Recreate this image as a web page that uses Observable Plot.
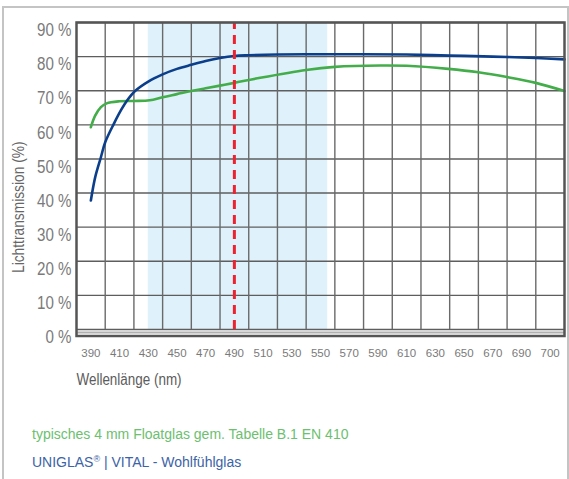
<!DOCTYPE html>
<html>
<head>
<meta charset="utf-8">
<script src="https://cdn.jsdelivr.net/npm/d3@7"></script>
<script src="https://cdn.jsdelivr.net/npm/@observablehq/plot@0.6"></script>
<style>
  html, body { margin: 0; padding: 0; background: #fff; }
  #wrap { position: relative; width: 569px; height: 479px; overflow: hidden; }
  #border { position: absolute; left: 2px; top: 6px; width: 563px; height: 490px; border: 2px solid #c4c4c4; }
  #chart { position: absolute; left: 0; top: 0; }
  .leg { position: absolute; left: 32px; font-family: "Liberation Sans", Arial, sans-serif; font-size: 14px; line-height: 14px; white-space: nowrap; }
  #leg1 { top: 427px; color: #6cc06f; }
  #leg2 { top: 455px; color: #3c63a6; }
  sup { font-size: 9px; vertical-align: 5px; line-height: 0; }
</style>
</head>
<body>
<div id="wrap">
  <div id="border"></div>
  <div id="chart"></div>
  <div class="leg" id="leg1"></div>
  <div class="leg" id="leg2"></div>
</div>
<script>
// ---- data ----
const xGrid = [400, 420, 440, 460, 480, 500, 520, 540, 560, 580, 600, 620, 640, 660, 680, 700];
const xTicks = [390, 410, 430, 450, 470, 490, 510, 530, 550, 570, 590, 610, 630, 650, 670, 690, 710];
const xTickLabels = ["390", "410", "430", "450", "470", "490", "510", "530", "550", "570", "590", "610", "630", "650", "670", "690", "700"];
const yTicks = [0, 10, 20, 30, 40, 50, 60, 70, 80, 90];
const xDomain = [380, 720];
const band = [{x1: 430, x2: 555}];
const marker = [490];

const blueWl = [390, 393, 397, 400, 406, 411, 415, 421, 430, 440, 450, 460, 470, 480, 490, 500, 520, 550, 580, 610, 640, 670, 700, 720];
const blueVal = [37.8, 44.6, 50.5, 54.9, 60.3, 64.3, 67.0, 70.0, 72.7, 74.8, 76.4, 77.6, 78.7, 79.6, 80.2, 80.4, 80.6, 80.7, 80.7, 80.6, 80.3, 80.0, 79.6, 79.2];

const greenWl = [390, 393, 397, 401, 410, 420, 431, 440, 450, 460, 470, 480, 490, 508, 540, 560, 592, 610, 639, 660, 680, 700, 720];
const greenVal = [59.3, 62.7, 65.2, 66.3, 66.9, 67.0, 67.2, 68.1, 69.0, 69.9, 70.7, 71.5, 72.3, 73.8, 76.1, 77.0, 77.4, 77.3, 76.4, 75.4, 74.0, 72.3, 69.9];

const xTitle = "Wellenlänge (nm)";
const yTitle = "Lichttransmission (%)";
const legendGreen = "typisches 4 mm Floatglas gem. Tabelle B.1 EN 410";
const legendBlue = ["UNIGLAS", "®", " | VITAL - Wohlfühlglas"];

// ---- build ----
const blue = blueWl.map((w, i) => ({w, v: blueVal[i]}));
const green = greenWl.map((w, i) => ({w, v: greenVal[i]}));
const labelMap = new Map(xTicks.map((t, i) => [t, xTickLabels[i]]));
const REG = '"Liberation Sans", Arial, sans-serif';

const chart = Plot.plot({
  width: 569,
  height: 400,
  marginLeft: 76,
  marginRight: 5,
  marginTop: 22,
  marginBottom: 71,
  style: {background: "transparent", fontFamily: REG},
  x: {domain: xDomain},
  y: {domain: [0, 90]},
  marks: [
    Plot.rect(band, {x1: "x1", x2: "x2", y1: 0, y2: 90, fill: "#dff1fa"}),
    Plot.gridY(yTicks, {stroke: "#5e5e5e", strokeOpacity: 1, strokeWidth: 1.4}),
    Plot.gridX(xGrid, {stroke: "#6a6a6a", strokeOpacity: 1, strokeWidth: 1.4}),
    Plot.ruleY([0], {stroke: "#b0b0b0", strokeWidth: 2, dy: 3}),
    Plot.line(green, {x: "w", y: "v", stroke: "#43ad4a", strokeWidth: 2.6, curve: "catmull-rom"}),
    Plot.line(blue, {x: "w", y: "v", stroke: "#0c3f8b", strokeWidth: 2.6, curve: "catmull-rom"}),
    Plot.ruleX(marker, {y1: 0, y2: 90, stroke: "#ec2230", strokeWidth: 3, strokeDasharray: "9,6"}),
    Plot.frame({stroke: "#555", strokeWidth: 2.5, insetBottom: -6.5}),
    Plot.axisY(yTicks, {tickSize: 0, tickPadding: 5, dy: 8, tickFormat: d => d + " %", fontSize: 18, fill: "#7a7a7a", label: null}),
    Plot.axisX(xTicks, {tickSize: 0, tickPadding: 19, tickFormat: d => labelMap.get(d), fontSize: 11.5, fill: "#7a7a7a", label: null}),
    Plot.text([xTitle], {frameAnchor: "bottom-left", dy: 55, textAnchor: "start", fontSize: 16, fill: "#5c5c5c"}),
    Plot.text([yTitle], {frameAnchor: "left", rotate: -90, dx: -58, dy: 97, fontSize: 17, fill: "#666"})
  ]
});
document.getElementById("chart").appendChild(chart);

// condensed look: squeeze the light condensed labels horizontally
function condense(el, f) {
  const w = el.getComputedTextLength();
  if (w > 0) {
    el.setAttribute("textLength", (w * f).toFixed(1));
    el.setAttribute("lengthAdjust", "spacingAndGlyphs");
  }
}
chart.querySelectorAll("text").forEach(t => {
  const s = t.textContent;
  if (s.endsWith(" %")) condense(t, 0.84);
  else if (s === xTitle) condense(t, 0.84);
  else if (s === yTitle) condense(t, 0.81);
});

document.getElementById("leg1").textContent = legendGreen;
const l2 = document.getElementById("leg2");
l2.appendChild(document.createTextNode(legendBlue[0]));
const s = document.createElement("sup"); s.textContent = legendBlue[1]; l2.appendChild(s);
l2.appendChild(document.createTextNode(legendBlue[2]));
</script>
</body>
</html>
